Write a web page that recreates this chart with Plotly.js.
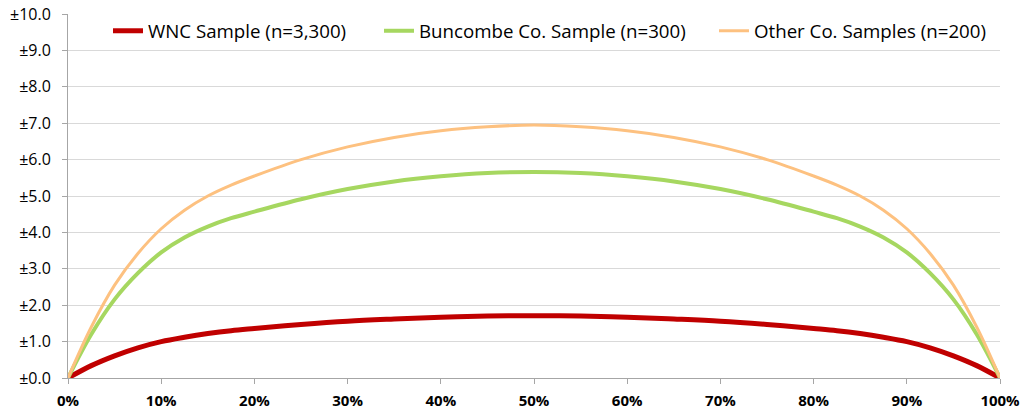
<!DOCTYPE html>
<html>
<head>
<meta charset="utf-8">
<script src="https://cdn.plot.ly/plotly-3.0.1.min.js"></script>
<style>html,body{margin:0;padding:0;background:#fff;}#chart{width:1035px;height:415px;}</style>
</head>
<body>
<div id="chart"></div>
<script>
// Proportion (%) on the x-axis
const proportion = [0, 2.5, 5, 7.5, 10, 12.5, 15, 17.5, 20, 25, 30, 35, 40, 45, 50, 55, 60, 65, 70, 75, 80, 82.5, 85, 87.5, 90, 92.5, 95, 97.5, 100];
// Margin of error (±, percentage points)
const wncSample = [0, 0.34, 0.61, 0.83, 1.00, 1.12, 1.22, 1.30, 1.36, 1.47, 1.56, 1.62, 1.67, 1.70, 1.71, 1.70, 1.67, 1.62, 1.56, 1.47, 1.36, 1.30, 1.22, 1.12, 1.00, 0.83, 0.61, 0.34, 0];
const buncombeSample = [0, 1.20, 2.16, 2.88, 3.45, 3.86, 4.16, 4.39, 4.57, 4.91, 5.19, 5.40, 5.54, 5.63, 5.66, 5.63, 5.54, 5.40, 5.19, 4.91, 4.57, 4.39, 4.16, 3.86, 3.45, 2.88, 2.16, 1.20, 0];
const otherSamples = [0, 1.40, 2.55, 3.42, 4.10, 4.61, 5.00, 5.30, 5.55, 6.00, 6.35, 6.61, 6.79, 6.90, 6.95, 6.90, 6.79, 6.61, 6.35, 6.00, 5.55, 5.30, 5.00, 4.61, 4.10, 3.42, 2.55, 1.40, 0];
const seriesNames = ['WNC Sample (n=3,300)', 'Buncombe Co. Sample (n=300)', 'Other Co. Samples (n=200)'];
const xTickVals = [0, 10, 20, 30, 40, 50, 60, 70, 80, 90, 100];
const xTickText = ['0%', '10%', '20%', '30%', '40%', '50%', '60%', '70%', '80%', '90%', '100%'];
const yTickVals = [0, 1, 2, 3, 4, 5, 6, 7, 8, 9, 10];
const yTickText = ['±0.0', '±1.0', '±2.0', '±3.0', '±4.0', '±5.0', '±6.0', '±7.0', '±8.0', '±9.0', '±10.0'];

const font = '"Open Sans", sans-serif';
const traces = [
  {x: proportion, y: wncSample, name: seriesNames[0], legend: 'legend', mode: 'lines', line: {color: '#C00000', width: 5, shape: 'spline', smoothing: 1}},
  {x: proportion, y: buncombeSample, name: seriesNames[1], legend: 'legend2', mode: 'lines', line: {color: '#A6D760', width: 4, shape: 'spline', smoothing: 1}},
  {x: proportion, y: otherSamples, name: seriesNames[2], legend: 'legend3', mode: 'lines', line: {color: '#FDC180', width: 3, shape: 'spline', smoothing: 1}}
];
const legendBase = {orientation: 'h', xanchor: 'left', y: 0.953, yanchor: 'middle',
  font: {family: font, size: 18.7, color: '#000'}, bgcolor: 'rgba(0,0,0,0)', borderwidth: 0, itemwidth: 30};
const layout = {
  width: 1035, height: 415,
  margin: {l: 68, r: 35, t: 14, b: 37},
  paper_bgcolor: '#fff', plot_bgcolor: '#fff',
  font: {family: font, color: '#000', size: 16},
  showlegend: true,
  legend: Object.assign({}, legendBase, {x: 0.0429}),
  legend2: Object.assign({}, legendBase, {x: 0.3337}),
  legend3: Object.assign({}, legendBase, {x: 0.6931}),
  xaxis: {range: [0, 100], tickvals: xTickVals, ticktext: xTickText, showgrid: false, zeroline: false,
          showline: true, linecolor: '#A6A6A6', linewidth: 1, ticks: 'outside', ticklen: 5, tickcolor: '#A6A6A6',
          ticklabelstandoff: 4,
          tickfont: {family: font, size: 15, color: '#000', weight: 'bold'}, fixedrange: true},
  yaxis: {range: [0, 10], tickvals: yTickVals, ticktext: yTickText, showgrid: true, gridcolor: '#D9D9D9', gridwidth: 1,
          zeroline: false, showline: true, linecolor: '#A6A6A6', linewidth: 1, ticks: 'outside', ticklen: 5, tickcolor: '#A6A6A6',
          ticklabelstandoff: 8,
          tickfont: {family: font, size: 16, color: '#000'}, fixedrange: true}
};
Plotly.newPlot('chart', traces, layout, {displayModeBar: false, staticPlot: true});
</script>
</body>
</html>
